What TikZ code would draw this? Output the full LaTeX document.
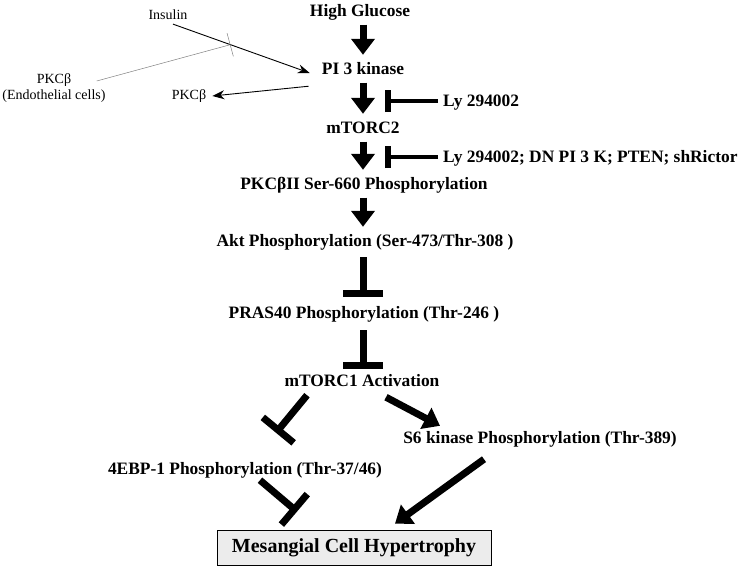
\documentclass[tikz,border=0pt]{standalone}
\usepackage{fontspec}
\setmainfont{Liberation Serif}
\usetikzlibrary{arrows.meta,positioning,calc}
\tikzset{
  pathlbl/.style={font=\fontsize{17.4}{19}\selectfont\bfseries, inner sep=0pt, text height=12pt, text depth=4pt},
  thinlbl/.style={font=\fontsize{14}{16}\selectfont, inner sep=0pt, align=center},
  fatarrow/.style={line width=7pt, -{Triangle[length=16pt,width=23pt]}, shorten <=4.5pt, shorten >=7pt},
  fatbar/.style={line width=7pt, -{Bar[width=40pt]}},
  blockbar/.style={line width=4pt, -{Bar[width=22pt,line width=6pt]}},
  thinarrow/.style={line width=0.9pt, -{Stealth[length=12pt,width=9pt]}},
  greybar/.style={line width=0.5pt, draw=gray, -{Bar[width=24pt]}},
  outbox/.style={draw, fill=gray!15, line width=0.8pt, minimum width=274pt, minimum height=35pt, inner sep=0pt, font=\fontsize{20}{22}\selectfont\bfseries}
}
\begin{document}
\begin{tikzpicture}[x=1pt,y=-1pt]
\useasboundingbox (0,0) rectangle (746,566);
% main chain
\node[pathlbl] (hg) at (360,12) {High Glucose};
\node[pathlbl] (pik) at (363,70) {PI 3 kinase};
\node[pathlbl] (mtorc2) at (363,129) {mTORC2};
\node[pathlbl] (pkcb2) at (364,185) {PKCβII Ser-660 Phosphorylation};
\node[pathlbl] (akt) at (365,242) {Akt Phosphorylation (Ser-473/Thr-308 )};
\node[pathlbl] (pras) at (364,314) {PRAS40 Phosphorylation (Thr-246 )};
\node[pathlbl] (mtorc1) at (362,382) {mTORC1 Activation};
\node[pathlbl] (sixk) at (540,439) {S6 kinase Phosphorylation (Thr-389)};
\node[pathlbl] (ebp) at (245,470) {4EBP-1 Phosphorylation (Thr-37/46)};
\node[outbox] (hyper) at (354,547.5) {Mesangial Cell Hypertrophy};

\draw[fatarrow] (hg.south -| pik) -- (pik.north);
\draw[fatarrow] (pik) -- (mtorc2);
\draw[fatarrow] (mtorc2.south) -- (pkcb2.north -| mtorc2);
\draw[fatarrow] (pkcb2.south -| mtorc2) -- (akt.north -| mtorc2);
\draw[fatbar, shorten <=7pt, shorten >=9pt] (akt.south -| mtorc2) -- (pras.north -| mtorc2);
\draw[fatbar, shorten <=8pt, shorten >=5pt] (pras.south -| mtorc2) -- (mtorc1.north -| mtorc2);
\draw[fatbar] ([xshift=-55pt,yshift=-5pt]mtorc1.south) -- ([xshift=31pt,yshift=29pt]ebp.north);
\draw[fatarrow, shorten <=0pt, shorten >=0pt] ([xshift=24pt,yshift=-7pt]mtorc1.south) -- ([xshift=-100pt,yshift=5pt]sixk.north);
\draw[fatbar] ([xshift=15pt,yshift=-2pt]ebp.south) -- ([xshift=-57pt,yshift=18pt]hyper.north);
\draw[fatarrow, shorten <=0pt, shorten >=0pt] ([xshift=-56pt,yshift=-12pt]sixk.south) -- ([xshift=41pt,yshift=6pt]hyper.north);

% inhibitors
\node[pathlbl, anchor=west] (ly1) at (443,102) {Ly 294002};
\node[pathlbl, anchor=west] (ly2) at (443,158) {Ly 294002; DN PI 3 K; PTEN; shRictor};
\coordinate (blk1) at (385,101);
\coordinate (blk2) at (385,157);
\draw[blockbar] ([xshift=-5pt,yshift=1pt]ly1.west) -- (blk1);
\draw[blockbar] ([xshift=-5pt,yshift=1pt]ly2.west) -- (blk2);

% side inputs
\node[thinlbl] (ins) at (168,15) {Insulin};
\node[thinlbl] (pkcendo) at (54,88) {PKCβ\\(Endothelial cells)};
\node[thinlbl] (pkcb) at (189,96) {PKCβ};
\draw[thinarrow] ([xshift=5pt,yshift=-4pt]ins.south) -- coordinate[pos=0.42] (inhib) ([xshift=-12pt,yshift=-3pt]pik.west);
\draw[greybar] ([shift={(-9pt,7pt)}]pkcendo.east) -- (inhib);
\draw[thinarrow] ([xshift=-13pt,yshift=-8pt]pik.south west) -- ([xshift=6pt]pkcb.east);
\end{tikzpicture}
\end{document}
